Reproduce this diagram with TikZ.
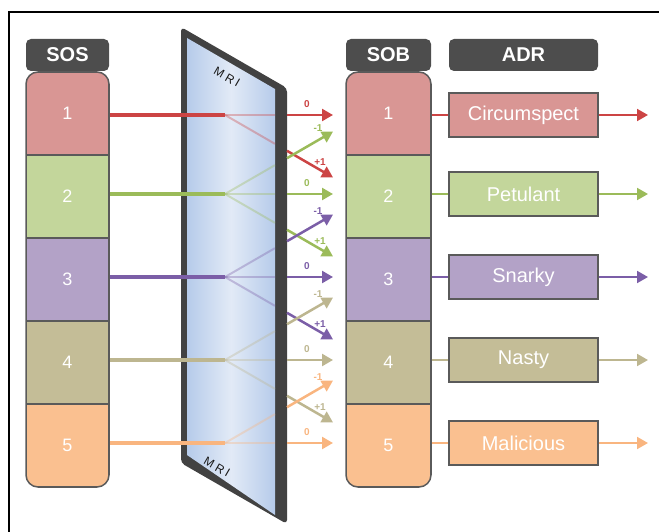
\documentclass[tikz,border=0pt]{standalone}
\usepackage{fontspec}
\setmainfont{Liberation Sans}
\usepackage{tikz}
\usetikzlibrary{arrows.meta, calc}

\definecolor{cellred}{HTML}{D99694}
\definecolor{cellgreen}{HTML}{C3D69B}
\definecolor{cellpurple}{HTML}{B3A2C7}
\definecolor{celltan}{HTML}{C4BD97}
\definecolor{cellorange}{HTML}{FAC090}
\definecolor{linered}{HTML}{CC4444}
\definecolor{linegreen}{HTML}{9BBB59}
\definecolor{linepurple}{HTML}{7B5EA7}
\definecolor{linetan}{HTML}{BDB690}
\definecolor{lineorange}{HTML}{F9B57F}
\definecolor{headgray}{HTML}{4D4D4D}
\definecolor{edgegray}{HTML}{5A5A5A}
\definecolor{slab}{HTML}{424242}
\definecolor{glass}{HTML}{B6CBEA}

\begin{document}
\begin{tikzpicture}[x=1pt, y=-1pt,
    header/.style={fill=headgray, rounded corners=5pt, minimum height=32pt, inner sep=0pt,
      text=white, font=\bfseries\fontsize{20}{24}\selectfont},
    cell/.style={draw=edgegray, line width=1.5pt, minimum height=83pt, inner sep=0pt,
      text=white, font=\fontsize{18}{22}\selectfont},
    adrbox/.style={draw=edgegray, line width=2pt, minimum width=149pt, minimum height=44pt,
      inner sep=0pt, text=white, font=\fontsize{20}{24}\selectfont},
    beam/.style={line width=4pt},
    glow/.style={line width=2pt, opacity=0.35},
    order/.style={line width=2.5pt, -{Triangle[length=11pt, width=12pt]}},
    link/.style={line width=2pt},
    tag/.style={inner sep=0pt, font=\bfseries\fontsize{10}{11}\selectfont},
    mri/.style={inner sep=0pt, text=black!90,
      font=\fontsize{12}{13}\selectfont\addfontfeature{LetterSpace=25}}]
  \useasboundingbox (0,0) rectangle (659,532);

  % Frame round the figure
  \draw[line width=2.5pt] (9,540) -- (9,12) -- (665,12);

  % Column headers
  \node[header, minimum width=83pt] (sos) at (67.5,55) {SOS};
  \node[header, minimum width=85pt] (sob) at (388.5,55) {SOB};
  \node[header, minimum width=149pt] (adr) at (523.5,55) {ADR};

  % SOS and SOB columns, cells clipped to rounded outlines
  \begin{scope}
    \clip[rounded corners=12pt] (26,72) rectangle (109,487) (346,72) rectangle (431,487);
    \foreach \i/\col in {1/red, 2/green, 3/purple, 4/tan, 5/orange} {
      \node[cell, minimum width=83pt, fill=cell\col] (s\i) at (67.5,30.5+83*\i) {\i};
      \node[cell, minimum width=85pt, fill=cell\col] (b\i) at (388.5,30.5+83*\i) {\i};
    }
  \end{scope}
  \draw[edgegray, line width=1.5pt, rounded corners=12pt] (26,72) rectangle (109,487);
  \draw[edgegray, line width=1.5pt, rounded corners=12pt] (346,72) rectangle (431,487);

  % The MRI slab
  \fill[slab, rounded corners=4pt] (181,27) -- (287,88) -- (287,524) -- (181,463) -- cycle;
  \shade[left color=glass, right color=glass, middle color=glass!40!white]
    (187,38) -- (275,89) -- (275,515) -- (187,455) -- cycle;
  \node[mri, rotate=-30] (mritop) at (227,77) {MRI};
  \node[mri, rotate=-30] (mribot) at (217,467) {MRI};

  % Beams, their split inside the slab and the orders leaving it
  \foreach \i/\col/\y/\word/\ords in {1/red/115/Circumspect/{0/z,1/d},
      2/green/194/Petulant/{-1/u,0/z,1/d}, 3/purple/277/Snarky/{-1/u,0/z,1/d},
      4/tan/360/Nasty/{-1/u,0/z,1/d}, 5/orange/443/Malicious/{-1/u,0/z}} {
    \coordinate (m\i) at (225,\y);
    \foreach \k/\n in \ords {
      \path (m\i) ++(62,{\k*35.8}) coordinate (o\i\n) ++(46,{\k*26.6}) coordinate (t\i\n);
      \draw[glow, line\col] (m\i) -- ($(m\i)!0.806!(o\i\n)$);
      \draw[order, line\col] (o\i\n) -- (t\i\n);
    }
    \draw[beam, line\col] (s\i.east |- m\i) -- (m\i);
    \node[tag, line\col] (lz\i) at ($(t\i z)+(-26,-11)$) {0};

    % ADR box fed by the SOB cell
    \node[adrbox, fill=cell\col] (a\i) at (523.5,\y) {\word};
    \coordinate (r\i) at (648,\y);
    \draw[link, line\col] (b\i.east |- a\i.west) -- (a\i.west);
    \draw[order, line width=2pt, line\col] (a\i.east) -- (r\i);
  }

  % Order labels on the split beams
  \foreach \i/\col in {2/green, 3/purple, 4/tan, 5/orange}
    \node[tag, line\col] (lu\i) at ($(t\i u)+(-15,-4)$) {-1};
  \foreach \i/\col in {1/red, 2/green, 3/purple, 4/tan}
    \node[tag, line\col] (ld\i) at ($(t\i d)+(-13,-15)$) {+1};

\end{tikzpicture}
\end{document}
